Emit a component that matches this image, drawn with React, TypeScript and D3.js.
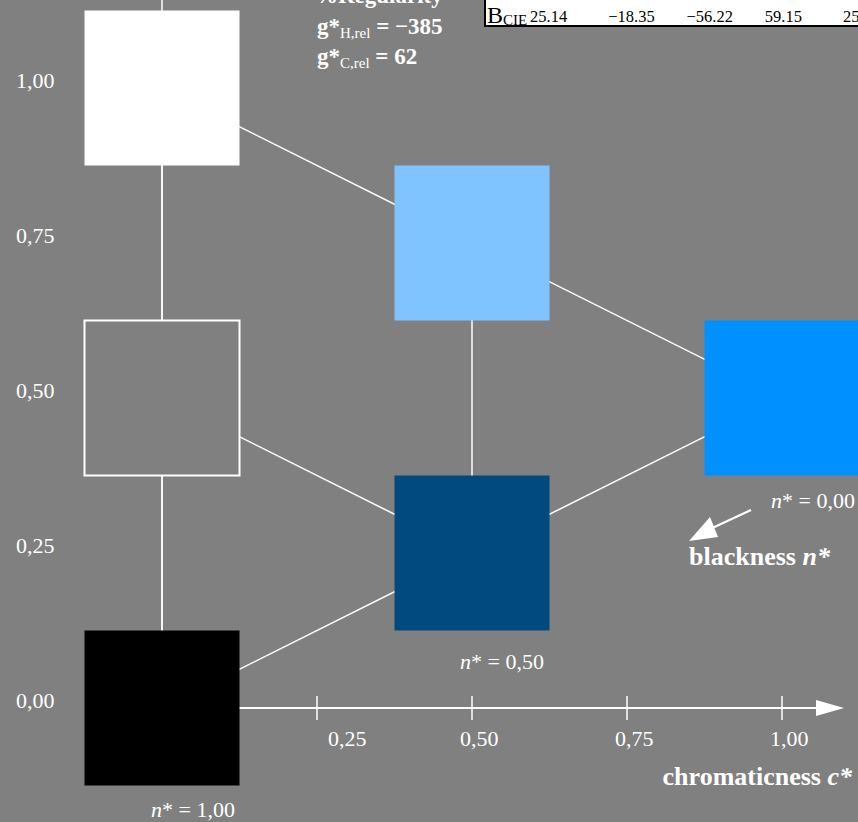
import React from "react";
import * as d3 from "d3";

// ---- data ----
const chromaticness = [0, 0, 0, 0.5, 0.5, 1.0];
const lightness = [0, 0.5, 1.0, 0.25, 0.75, 0.5];
const fills = ["#000000", "#808080", "#ffffff", "#004a80", "#80c4ff", "#0090ff"];
const outlined = [false, true, false, false, false, false];
const names = ["N", "Grey", "W", "D", "L", "C"];
// edges between samples (indices)
const edges: [number, number][] = [
  [0, 1], [1, 2], [2, 4], [4, 5], [1, 3], [3, 5], [0, 3], [3, 4],
];
const xTicks = [0.25, 0.5, 0.75, 1.0];
const xTickLabels = ["0,25", "0,50", "0,75", "1,00"];
const yTicks = [0, 0.25, 0.5, 0.75, 1.0];
const yTickLabels = ["0,00", "0,25", "0,50", "0,75", "1,00"];
const tableValues = ["25.14", "\u221218.35", "\u221256.22", "59.15", "25.14"];
const gH = "\u2212385";
const gC = "62";

const W = 858;
const H = 822;
const serif = "'Liberation Serif', 'Times New Roman', Times, serif";

export default function App() {
  const x = d3.scaleLinear().domain([0, 1]).range([162, 782]);
  const y = d3.scaleLinear().domain([0, 1]).range([708, 88]);
  const half = x(0.125) - x(0);
  const col = d3.scalePoint<number>().domain(d3.range(tableValues.length)).range([530, 843]);
  const line = d3.line<[number, number]>().x((d) => x(d[0])).y((d) => y(d[1]));

  return (
    <svg
      width={W}
      height={H}
      style={{ position: "absolute", left: 0, top: 0, display: "block" }}
      fontFamily={serif}
    >
      <rect x={0} y={0} width={W} height={H} fill="#808080" />

      {/* y axis line */}
      <line x1={x(0)} x2={x(0)} y1={-10} y2={y(0)} stroke="#fff" strokeWidth={1.5} />

      {/* connecting lines */}
      {edges.map(([a, b], i) => (
        <path
          key={i}
          d={line([
            [chromaticness[a], lightness[a]],
            [chromaticness[b], lightness[b]],
          ]) || ""}
          stroke="#fff"
          strokeWidth={1.5}
          fill="none"
        />
      ))}

      {/* x axis */}
      <line x1={x(0)} x2={816} y1={y(0)} y2={y(0)} stroke="#fff" strokeWidth={2} />
      <polygon points={`816,${y(0) - 8} 844,${y(0)} 816,${y(0) + 8}`} fill="#fff" />
      {xTicks.map((t, i) => (
        <g key={t}>
          <line x1={x(t)} x2={x(t)} y1={y(0) - 12} y2={y(0) + 12} stroke="#fff" strokeWidth={1.5} />
          <text
            x={x(t) - 12 + (i === 0 ? 23 : 0)}
            y={y(0) + 38}
            fill="#fff"
            fontSize={22}
          >
            {xTickLabels[i]}
          </text>
        </g>
      ))}
      {yTicks.map((t, i) => (
        <text key={t} x={16} y={y(t)} fill="#fff" fontSize={22}>
          {yTickLabels[i]}
        </text>
      ))}

      {/* squares */}
      {names.map((n, i) => (
        <rect
          key={n}
          x={x(chromaticness[i]) - half}
          y={y(lightness[i]) - half}
          width={2 * half}
          height={2 * half}
          fill={fills[i]}
          stroke={outlined[i] ? "#fff" : "none"}
          strokeWidth={2}
        />
      ))}

      {/* n* labels */}
      <text x={855} y={508} fill="#fff" fontSize={22} textAnchor="end">
        <tspan fontStyle="italic">n</tspan>* = 0,00
      </text>
      <text x={502} y={669} fill="#fff" fontSize={22} textAnchor="middle">
        <tspan fontStyle="italic">n</tspan>* = 0,50
      </text>
      <text x={193} y={817} fill="#fff" fontSize={22} textAnchor="middle">
        <tspan fontStyle="italic">n</tspan>* = 1,00
      </text>

      {/* blackness arrow */}
      <line x1={751} y1={510} x2={708} y2={530} stroke="#fff" strokeWidth={2} />
      <polygon points="689,541 710,517 718,537" fill="#fff" />
      <text x={689} y={565} fill="#fff" fontSize={26} fontWeight="bold">
        blackness <tspan fontStyle="italic">n*</tspan>
      </text>
      <text x={852} y={785} fill="#fff" fontSize={26} fontWeight="bold" textAnchor="end">
        chromaticness <tspan fontStyle="italic">c*</tspan>
      </text>

      {/* top texts */}
      <text x={315} y={3} fill="#fff" fontSize={23} fontWeight="bold">
        %Regularity
      </text>
      <text x={317} y={34} fill="#fff" fontSize={23} fontWeight="bold">
        g*<tspan fontSize={15} fontWeight="normal" dy={4}>H,rel</tspan>
        <tspan dy={-4}> = {gH}</tspan>
      </text>
      <text x={317} y={64} fill="#fff" fontSize={23} fontWeight="bold">
        g*<tspan fontSize={15} fontWeight="normal" dy={4}>C,rel</tspan>
        <tspan dy={-4}> = {gC}</tspan>
      </text>

      {/* table */}
      <rect x={485} y={-10} width={400} height={36} fill="#fff" stroke="#000" strokeWidth={2} />
      <text x={487} y={23} fill="#000" fontSize={24}>
        B<tspan fontSize={15} dy={2}>CIE</tspan>
      </text>
      {tableValues.map((v, i) => (
        <text key={i} x={col(i)} y={22} fill="#000" fontSize={16.5}>
          {v}
        </text>
      ))}
    </svg>
  );
}
